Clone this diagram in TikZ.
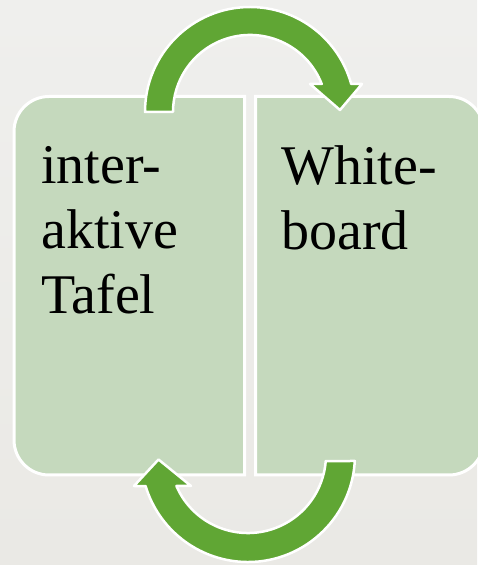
\documentclass[tikz,border=0pt]{standalone}
\usepackage{fontspec}
\setmainfont{Liberation Serif}
\definecolor{bgtop}{RGB}{239,239,237}
\definecolor{bgbot}{RGB}{234,233,229}
\definecolor{boxfill}{RGB}{197,217,189}
\definecolor{arrowgreen}{RGB}{96,166,52}
\tikzset{
  boxshape/.style={fill=boxfill, draw=white, line width=3pt},
  arrowshape/.style={fill=arrowgreen, draw=white, line width=2.5pt, line join=round},
  label/.style={anchor=base west, inner sep=0pt, align=left, text=black,
    font=\fontsize{56}{65}\selectfont}
}
\begin{document}
\begin{tikzpicture}[x=1pt,y=1pt]
\useasboundingbox (0,0) rectangle (477,565);
\shade[top color=bgtop, bottom color=bgbot] (0,0) rectangle (477,565);
% left box
\path[boxshape] (244.5,90) -- (49,90) arc[start angle=270, end angle=180, radius=35]
  -- (14,433.5) arc[start angle=180, end angle=90, radius=35] -- (244.5,468.5) -- cycle;
% right box
\path[boxshape] (255.5,90) -- (255.5,468.5) -- (449,468.5) arc[start angle=90, end angle=0, radius=35]
  -- (484,125) arc[start angle=0, end angle=-90, radius=35] -- cycle;
\node[label] (left) at (41,251.7) {inter-\\aktive\\Tafel};
\node[label] (right) at (281,315) {White-\\board};
% top arrow
\path[arrowshape] (145,453) arc[start angle=180, end angle=15.47, radius=105]
  -- (362,481) -- (340,455) -- (310,481) -- (321.74,481)
  arc[start angle=21.3, end angle=180, radius=77] -- cycle;
% bottom arrow
\path[arrowshape] (354.8,104) arc[start angle=-3.2, end angle=-163.16, radius=107]
  -- (134,79) -- (158.5,105.5) -- (191,79) -- (176.4,79)
  arc[start angle=-156.6, end angle=-4.4, radius=78] -- cycle;
\end{tikzpicture}
\end{document}
